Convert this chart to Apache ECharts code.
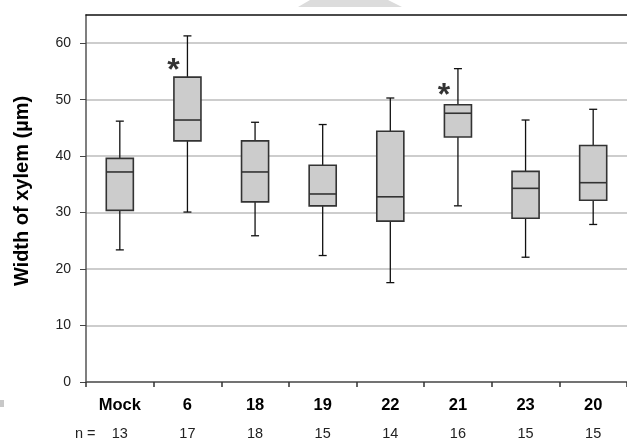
<!DOCTYPE html>
<html><head><meta charset="utf-8">
<script src="https://cdn.jsdelivr.net/npm/echarts@6/dist/echarts.min.js"></script>
<style>html,body{margin:0;padding:0;background:#fff}#c{width:627px;height:443px}</style>
</head><body><div id="c"></div>
<script>
const categories = ['Mock','6','18','19','22','21','23','20'];
const nValues = [13,17,18,15,14,16,15,15];
const whiskerLow = [23.4,30.1,25.9,22.4,17.6,31.2,22.1,27.9];
const q1 = [30.4,42.7,31.9,31.2,28.5,43.4,29.0,32.2];
const median = [37.2,46.4,37.2,33.3,32.8,47.6,34.3,35.3];
const q3 = [39.6,54.0,42.7,38.4,44.4,49.1,37.3,41.9];
const whiskerHigh = [46.2,61.3,46.0,45.6,50.3,55.5,46.4,48.3];
const starPositions = [[1,56.5],[5,52.1]];
const yTicks = [0,10,20,30,40,50,60];

const boxData = categories.map((c,i)=>[i, whiskerLow[i], q1[i], median[i], q3[i], whiskerHigh[i]]);

const chart = echarts.init(document.getElementById('c'));
chart.setOption({
  animation:false,
  grid:{left:86,right:0,top:15,bottom:61},
  graphic:[
    {type:'polygon',shape:{points:[[310,0],[388,0],[402,7],[298,7]]},style:{fill:'#dcdcdc'},z:-1},
    {type:'rect',shape:{x:0,y:400,width:4,height:7},style:{fill:'#c8c8c8'}},
    {type:'text',x:75,y:434,style:{text:'n =',font:'14.5px "Liberation Sans"',fill:'#222',verticalAlign:'middle'}},
    {type:'text',x:22,y:191,rotation:Math.PI/2,style:{text:'Width of xylem (µm)',font:'bold 20px "Liberation Sans"',fill:'#000',align:'center',verticalAlign:'middle'}}
  ],
  xAxis:[{
    type:'category',data:categories,boundaryGap:true,
    axisLine:{lineStyle:{color:'#555',width:1.5}},
    axisTick:{show:true,length:5,alignWithLabel:false,lineStyle:{color:'#333',width:1.5}},
    axisLabel:{margin:8,formatter:(v,i)=>'{c|'+v+'}\n{n|'+nValues[i]+'}',
      rich:{c:{fontSize:16.5,fontWeight:'bold',fontFamily:'Liberation Sans',color:'#000',lineHeight:30},
            n:{fontSize:14.5,fontFamily:'Liberation Sans',color:'#222',lineHeight:28}}}
  },{
    type:'category',data:categories,position:'top',
    axisLine:{lineStyle:{color:'#111',width:1.5}},axisTick:{show:false},axisLabel:{show:false}
  }],
  yAxis:{
    type:'value',min:0,max:65,interval:10,
    axisLine:{show:true,lineStyle:{color:'#555',width:1.5}},
    axisTick:{show:true,length:6,customValues:yTicks,lineStyle:{color:'#444'}},
    axisLabel:{customValues:yTicks,margin:15,fontSize:14,fontFamily:'Liberation Sans',color:'#222'},
    splitLine:{show:true,lineStyle:{color:'#bdbdbd',width:1.5}}
  },
  series:[{
    type:'custom',
    data:boxData,
    encode:{x:0,y:[1,2,3,4,5]},
    renderItem:function(params,api){
      const x=api.value(0);
      const pLo=api.coord([x,api.value(1)]);
      const pQ1=api.coord([x,api.value(2)]);
      const pMed=api.coord([x,api.value(3)]);
      const pQ3=api.coord([x,api.value(4)]);
      const pHi=api.coord([x,api.value(5)]);
      const bw=api.size([1,0])[0]*0.4;
      const cx=pMed[0];
      const cap=4;
      const ws={stroke:'#111',lineWidth:1.3};
      return {type:'group',children:[
        {type:'line',shape:{x1:cx,y1:pHi[1],x2:cx,y2:pQ3[1]},style:ws},
        {type:'line',shape:{x1:cx,y1:pQ1[1],x2:cx,y2:pLo[1]},style:ws},
        {type:'line',shape:{x1:cx-cap,y1:pHi[1],x2:cx+cap,y2:pHi[1]},style:ws},
        {type:'line',shape:{x1:cx-cap,y1:pLo[1],x2:cx+cap,y2:pLo[1]},style:ws},
        {type:'rect',shape:{x:cx-bw/2,y:pQ3[1],width:bw,height:pQ1[1]-pQ3[1]},style:{fill:'#cccccc',stroke:'#333',lineWidth:1.6}},
        {type:'line',shape:{x1:cx-bw/2,y1:pMed[1],x2:cx+bw/2,y2:pMed[1]},style:{stroke:'#333',lineWidth:1.6}}
      ]};
    }
  },{
    type:'scatter',data:starPositions,symbolSize:0,
    label:{show:true,formatter:'*',position:'inside',offset:[-14,8],fontSize:32,fontWeight:'bold',fontFamily:'Liberation Sans',color:'#000'}
  }]
});
</script></body></html>
